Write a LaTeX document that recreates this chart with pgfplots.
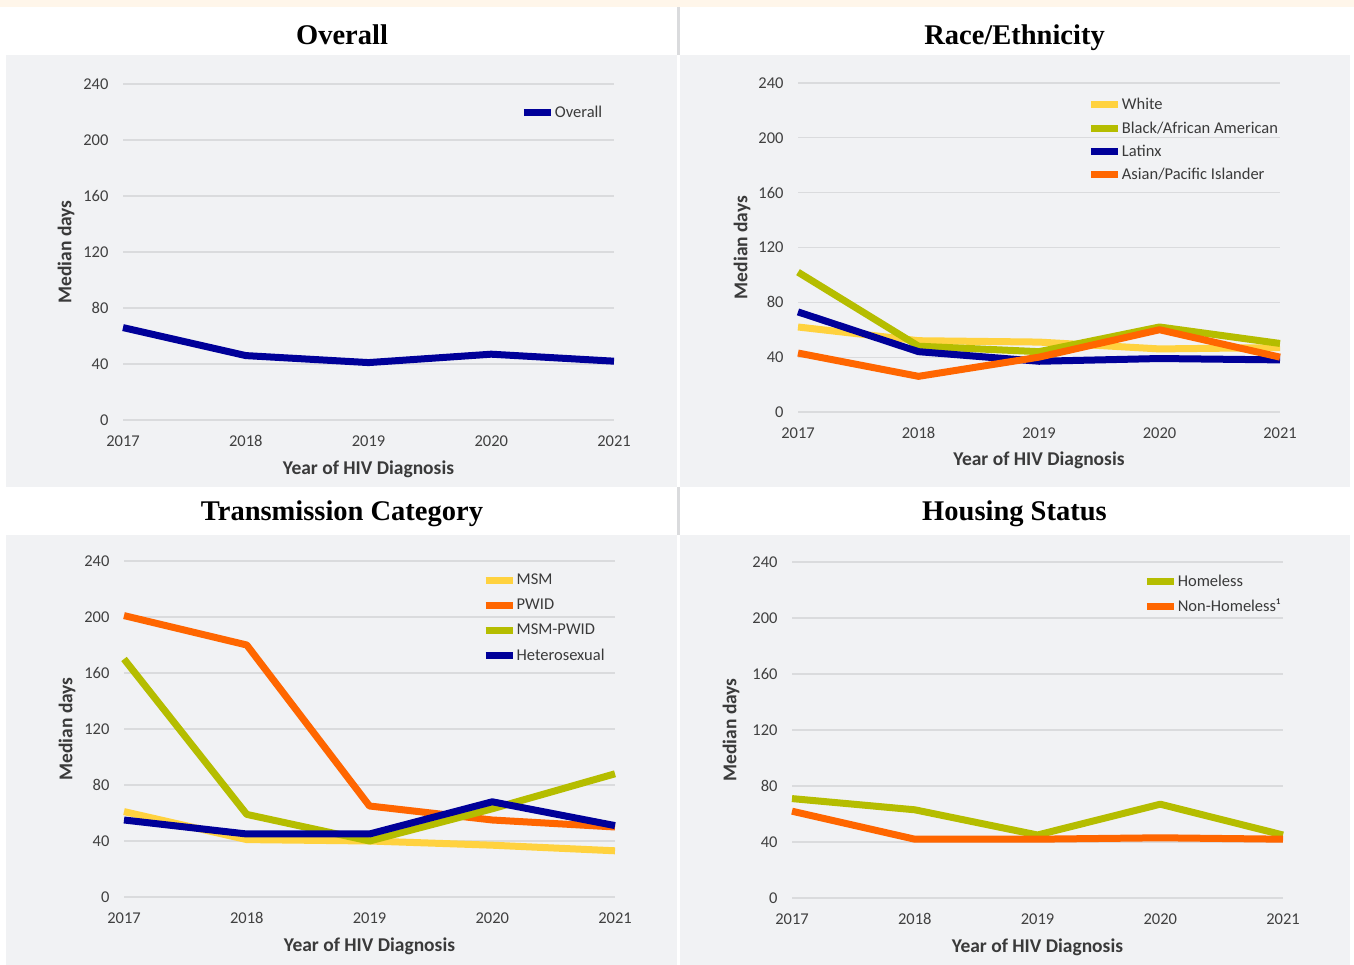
\documentclass[border=0pt]{standalone}
\usepackage{fontspec}
\setmainfont{Carlito}
\newfontfamily\titlefont{Liberation Serif}
\usepackage{pgfplots}
\pgfplotsset{compat=1.18}

\definecolor{navy}{HTML}{000099}
\definecolor{gold}{HTML}{FFD23F}
\definecolor{olive}{HTML}{B5BD00}
\definecolor{orng}{HTML}{FF6600}
\definecolor{panelbg}{HTML}{F1F2F4}
\definecolor{topstrip}{HTML}{FFF6EA}
\definecolor{gridc}{HTML}{DADBDD}
\definecolor{tickc}{HTML}{404040}
\definecolor{labc}{HTML}{3A3A3A}

\pgfplotsset{
  legend image code/.code={\draw[#1, line width=7pt] (0pt,0pt) -- (27pt,0pt);},
  panel/.style={
    scale only axis, width=491pt, height=336pt,
    xmin=2017, xmax=2021, ymin=0, ymax=240,
    enlargelimits=false, clip=false,
    xtick={2017,2018,2019,2020,2021}, ytick={0,40,...,240},
    scaled x ticks=false,
    /pgf/number format/1000 sep={},
    /pgf/number format/assume math mode=true,
    axis line style={draw=none}, major tick length=0pt,
    ymajorgrids, grid style={color=gridc, line width=1.3pt},
    tick label style={font=\fontsize{16.5}{19}\selectfont, text=tickc},
    xticklabel style={yshift=-12pt, text height=11pt},
    yticklabel style={xshift=-11pt},
    xlabel={Year of HIV Diagnosis}, ylabel={Median days},
    every axis x label/.style={at={(axis description cs:0.5,-0.146)}, anchor=center,
      font=\bfseries\fontsize{19.5}{22}\selectfont, text=labc},
    every axis y label/.style={at={(axis description cs:-0.116,0.5)}, rotate=90, anchor=center,
      font=\bfseries\fontsize{19.5}{22}\selectfont, text=labc},
    every axis plot/.append style={line width=7pt, line join=round},
    legend cell align=left,
    legend style={draw=none, fill=none, anchor=north west, inner sep=0pt,
      font=\fontsize{16.5}{19}\selectfont, text=labc,
      nodes={inner xsep=0.5pt, inner ysep=2pt}, row sep=8.8pt},
  },
}

\begin{document}
\begin{tikzpicture}
\useasboundingbox (0pt,0pt) rectangle (1354pt,965pt);
\fill[white] (0pt,0pt) rectangle (1354pt,965pt);
\fill[topstrip] (0pt,958pt) rectangle (1354pt,965pt);
% panel backgrounds
\fill[panelbg] (6pt,478pt) rectangle (677pt,910pt);
\fill[panelbg] (680pt,478pt) rectangle (1350pt,910pt);
\fill[panelbg] (6pt,0pt) rectangle (677pt,430pt);
\fill[panelbg] (680pt,0pt) rectangle (1350pt,430pt);
\fill[gridc] (677pt,910pt) rectangle (679.5pt,958pt);
\fill[gridc] (677pt,430pt) rectangle (679.5pt,478pt);
% titles
\tikzset{ttl/.style={anchor=base, inner sep=0pt, font=\titlefont\bfseries\fontsize{28.5}{32}\selectfont}}
\node[ttl] at (342pt,920pt) {Overall};
\node[ttl] at (1014.5pt,920pt) {Race/Ethnicity};
\node[ttl] at (342pt,444pt) {Transmission Category};
\node[ttl] at (1014.5pt,444pt) {Housing Status};

% Overall
\begin{axis}[panel, at={(123pt,545pt)}, anchor=south west,
  legend style={at={(0.809,0.940)}}]
\addplot[navy] coordinates {(2017,66) (2018,46) (2019,41) (2020,47) (2021,42)};
\legend{Overall}
\end{axis}

% Race/Ethnicity
\begin{axis}[panel, width=482pt, height=329pt, at={(798pt,553pt)}, anchor=south west,
  legend style={at={(0.60,0.960)}, row sep=6.3pt}]
\addplot[gold] coordinates {(2017,62) (2018,52) (2019,51) (2020,46) (2021,47)};
\addplot[olive] coordinates {(2017,102) (2018,48) (2019,44) (2020,62) (2021,50)};
\addplot[navy] coordinates {(2017,73) (2018,44) (2019,37) (2020,39) (2021,38)};
\addplot[orng] coordinates {(2017,43) (2018,26) (2019,40) (2020,60) (2021,40)};
\legend{White, Black/African American, Latinx, Asian/Pacific Islander}
\end{axis}

% Transmission Category
\begin{axis}[panel, at={(124pt,68pt)}, anchor=south west,
  legend style={at={(0.729,0.967)}}]
\addplot[gold] coordinates {(2017,61) (2018,41) (2019,40) (2020,37) (2021,33)};
\addplot[orng] coordinates {(2017,201) (2018,180) (2019,65) (2020,55) (2021,50)};
\addplot[olive] coordinates {(2017,170) (2018,59) (2019,40) (2020,63) (2021,88)};
\addplot[navy] coordinates {(2017,55) (2018,45) (2019,45) (2020,68) (2021,51)};
\legend{MSM, PWID, MSM-PWID, Heterosexual}
\end{axis}

% Housing Status
\begin{axis}[panel, at={(792pt,67pt)}, anchor=south west,
  every axis y label/.append style={at={(axis description cs:-0.124,0.5)}},
  legend style={at={(0.715,0.967)}, row sep=7pt}]
\addplot[olive] coordinates {(2017,71) (2018,63) (2019,45) (2020,67) (2021,45)};
\addplot[orng] coordinates {(2017,62) (2018,42) (2019,42) (2020,43) (2021,42)};
\legend{Homeless, Non-Homeless¹}
\end{axis}
\end{tikzpicture}
\end{document}
